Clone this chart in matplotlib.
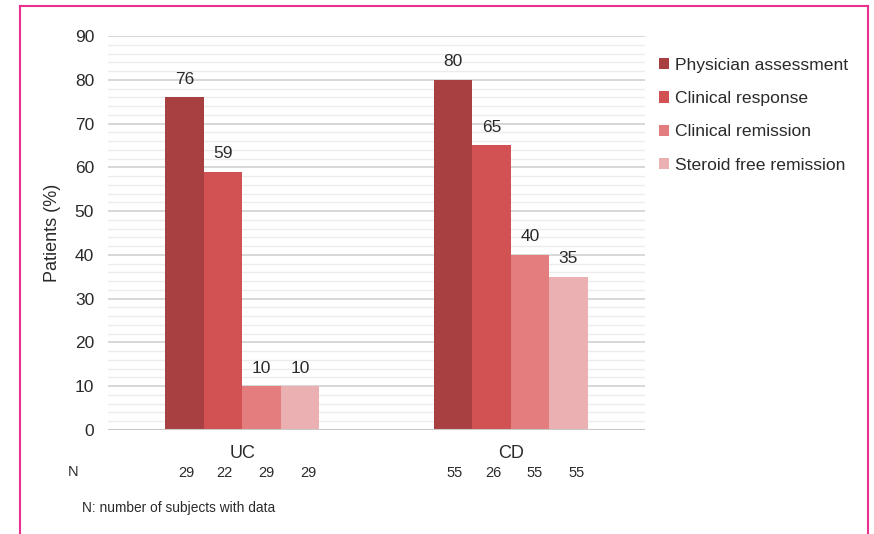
import numpy as np
import matplotlib.pyplot as plt
from matplotlib.lines import Line2D
from matplotlib.patches import Patch

groups = ["UC", "CD"]
series = ["Physician assessment", "Clinical response",
          "Clinical remission", "Steroid free remission"]
uc_vals = [76, 59, 10, 10]
cd_vals = [80, 65, 40, 35]
uc_n = [29, 22, 29, 29]
cd_n = [55, 26, 55, 55]
colors = ["#A84042", "#D25152", "#E37D7E", "#EBB0B2"]

plt.rcParams["font.family"] = ["Liberation Sans", "DejaVu Sans"]

fig = plt.figure(figsize=(8.74, 5.34), dpi=100)
W, H = 874, 534
ax = fig.add_axes([108 / W, 1 - 430 / H, (645 - 108) / W, (430 - 36) / H])

values = np.array([uc_vals, cd_vals])
counts = np.array([uc_n, cd_n])
x = np.arange(len(groups))
width = 0.143
n_shift = [1, 1, 3.5, 6]  # nudge of the N labels, in points

# grid: minor every 2, major every 10
ax.set_ylim(0, 90)
ax.set_xlim(-0.5, 1.5)
ax.set_yticks(np.arange(0, 91, 10))
ax.set_yticks(np.arange(0, 91, 2), minor=True)
ax.grid(axis="y", which="minor", color="#ECECEC", lw=1.0, zorder=0)
ax.grid(axis="y", which="major", color="#D4D4D4", lw=1.3, zorder=0)
ax.set_axisbelow(True)

for i in range(len(series)):
    pos = x + (i - 1.5) * width
    ax.bar(pos, values[:, i], width, color=colors[i], zorder=2)
    for p, v, n in zip(pos, values[:, i], counts[:, i]):
        ax.text(p, v + 2.4, str(v), ha="center", va="bottom",
                fontsize=12.5, color="#2a2a2a")
        ax.annotate(str(n), xy=(p, 0), xycoords="data",
                    xytext=(n_shift[i], -31), textcoords="offset points",
                    ha="center", va="center", fontsize=10.5, color="#2a2a2a")

ax.axhline(0, color="#C8C8C8", lw=1.5, zorder=3)
for s in ax.spines.values():
    s.set_visible(False)

ax.set_xticks(x)
ax.set_xticklabels(groups, fontsize=13, color="#2a2a2a")
ax.tick_params(axis="x", length=0, pad=11)
ax.tick_params(axis="y", which="both", length=0, pad=10,
               labelsize=12.5, labelcolor="#2a2a2a")
ax.set_ylabel("Patients (%)", fontsize=13, color="#2a2a2a", labelpad=10)

fig.text(73 / W, 1 - 472 / H, "N", fontsize=10.5, color="#2a2a2a",
         ha="center", va="center")
fig.text(82 / W, 1 - 508 / H, "N: number of subjects with data",
         fontsize=9.9, color="#2a2a2a", ha="left", va="center")

handles = [Patch(facecolor=c) for c in colors]
fig.legend(handles, series, loc="upper left",
           bbox_to_anchor=(643 / W, 1 - 42 / H), frameon=False,
           fontsize=12.6, handlelength=0.6, handleheight=0.6,
           handletextpad=0.35, labelspacing=1.05, labelcolor="#2a2a2a")

# pink frame
frame_c = "#E8318C"
fig.add_artist(Line2D([20 / W, 20 / W], [0, 1 - 6 / H], color=frame_c,
                      lw=1.5, transform=fig.transFigure))
fig.add_artist(Line2D([868 / W, 868 / W], [0, 1 - 6 / H], color=frame_c,
                      lw=1.5, transform=fig.transFigure))
fig.add_artist(Line2D([20 / W, 868 / W], [1 - 6 / H, 1 - 6 / H],
                      color=frame_c, lw=1.5, transform=fig.transFigure))

fig.savefig("out.png", dpi=100)
